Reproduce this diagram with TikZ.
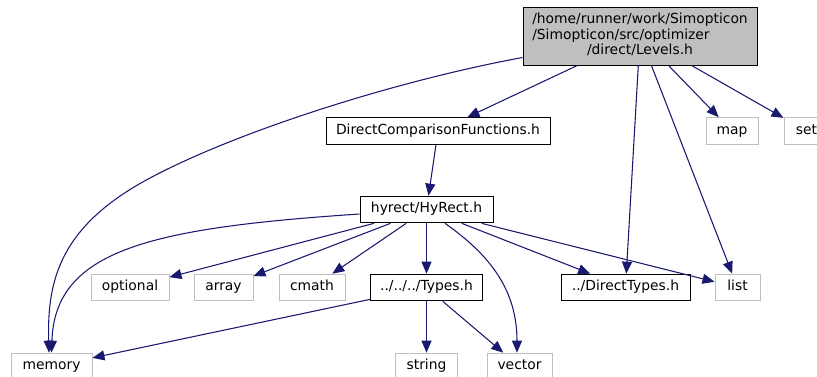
\documentclass[tikz,border=0pt]{standalone}
\usepackage{fontspec}
\setmainfont{DejaVu Sans}
\usetikzlibrary{arrows.meta, calc}
\definecolor{edgeblue}{HTML}{191970}
\definecolor{sysgray}{HTML}{BFBFBF}

\begin{document}
\begin{tikzpicture}[
            x=0.75pt, y=-0.75pt,
            font=\fontsize{10.4}{11.6}\selectfont,
            mainbox/.style={draw, fill=sysgray, rectangle, line width=0.75pt, inner sep=0pt},
            box/.style={draw, rectangle, line width=0.75pt, inner sep=0pt, minimum height=20pt,
                text height=0.74em, text depth=0.22em},
            sysbox/.style={box, draw=sysgray},
            edge/.style={draw=edgeblue, line width=0.8pt, -{Triangle[length=9pt, width=7.5pt]}}
            ]

            \useasboundingbox (0,0) rectangle (817,376);
            \clip (0,0) rectangle (817,376);

            % arquivo principal
            \node[mainbox, minimum width=175.5pt, minimum height=43.5pt] (levels) at (640,36)
                {\begin{tabular}{@{}l@{}}/home/runner/work/Simopticon\\/Simopticon/src/optimizer\\\multicolumn{1}{@{}c@{}}{/direct/Levels.h}\end{tabular}};

            % cabeçalhos do projeto
            \node[box, minimum width=168pt] (dcf) at (438,131) {DirectComparisonFunctions.h};
            \node[box, minimum width=99.75pt] (hyrect) at (426.5,209.5) {hyrect/HyRect.h};
            \node[box, minimum width=84pt] (types) at (426.5,287.5) {../../../Types.h};
            \node[box, minimum width=96.75pt] (dtypes) at (625.5,287.5) {../DirectTypes.h};

            % biblioteca padrão
            \node[sysbox, minimum width=39pt] (map) at (732,131) {map};
            \node[sysbox, minimum width=33.75pt] (set) at (806.5,131) {set};
            \node[sysbox, minimum width=58.5pt] (optional) at (130,287.5) {optional};
            \node[sysbox, minimum width=44.25pt] (array) at (223.5,287.5) {array};
            \node[sysbox, minimum width=49.5pt] (cmath) at (312,287.5) {cmath};
            \node[sysbox, minimum width=33.75pt] (list) at (737.5,287.5) {list};
            \node[sysbox, minimum width=60.75pt] (memory) at (51.5,366.5) {memory};
            \node[sysbox, minimum width=46.5pt] (string) at (426.5,366.5) {string};
            \node[sysbox, minimum width=48.75pt] (vector) at (519.5,366.5) {vector};

            % dependências de Levels.h
            \draw[edge] ($(levels.south west)+(0,-8)$) .. controls (400,80) and (240,130) .. (150,178)
                .. controls (60,226) and (47,280) .. ($(memory.north)+(-2.5,0)$);
            \draw[edge] (levels) -- (dcf);
            \draw[edge] (levels) -- (dtypes);
            \draw[edge] (levels) -- (list);
            \draw[edge] (levels) -- (map);
            \draw[edge] (levels) -- (set);

            % dependências de DirectComparisonFunctions.h
            \draw[edge] (dcf) -- (hyrect);

            % dependências de HyRect.h
            \draw[edge] ($(hyrect.west)+(0,4.5)$) .. controls (150,228) and (55,250) .. (memory.north);
            \draw[edge] (hyrect) -- (optional);
            \draw[edge] (hyrect) -- (array);
            \draw[edge] (hyrect) -- (cmath);
            \draw[edge] (hyrect) -- (types);
            \draw[edge] ($(hyrect.south)+(18.5,0)$) .. controls (490,255) and (517,290) .. ($(vector.north)+(-2.5,0)$);
            \draw[edge] (hyrect) -- (dtypes);
            \draw[edge] (hyrect) -- (list);

            % dependências de Types.h
            \draw[edge] (types) -- (memory);
            \draw[edge] (types) -- (string);
            \draw[edge] (types) -- (vector);

        \end{tikzpicture}
\end{document}
